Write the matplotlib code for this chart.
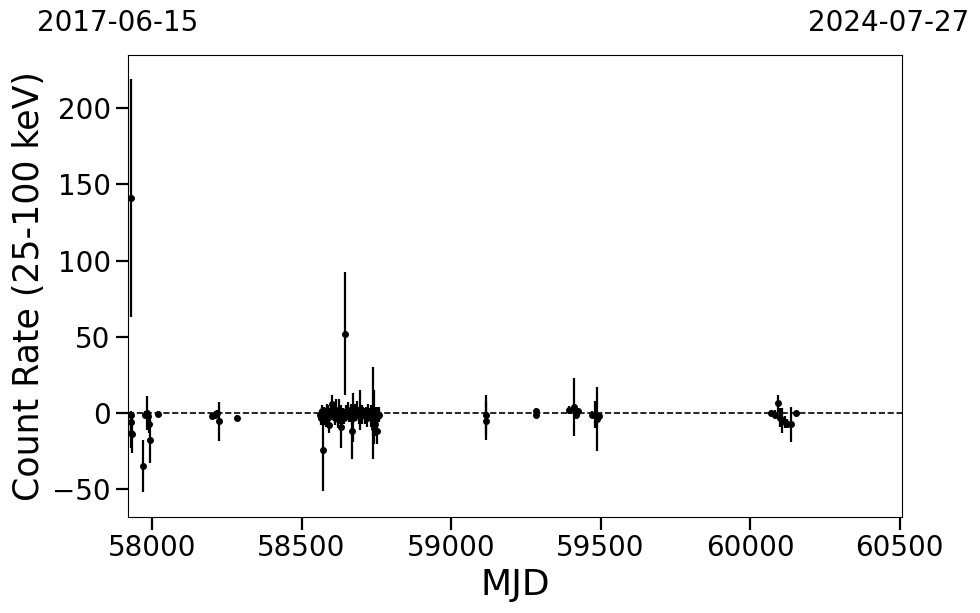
import matplotlib
matplotlib.use("Agg")
import matplotlib.pyplot as plt
import numpy as np

# ---- data ----
mjd_c1 = [57929.8, 57930.5, 57931.0, 57931.5, 57930.0, 57970, 57977, 57983, 57988, 57990, 57993, 58020]
rate_c1 = [141, -1, -6, -14, -13, -35, -1, 0, -2, -7, -18, -0.5]
err_c1 = [78, 2, 5, 12, 10, 17, 2, 11, 3, 6, 15, 1.5]

mjd_c2 = [58200, 58210, 58218, 58224, 58284]
rate_c2 = [-2, -1, 0, -5.5, -3]
err_c2 = [2, 2, 2, 13, 2]

mjd_c3 = [58562, 58566, 58569, 58573, 58576, 58579, 58582, 58585, 58589, 58592,
          58596, 58599, 58603, 58607, 58611, 58615, 58619, 58623, 58627, 58631,
          58635, 58639, 58643, 58645, 58648, 58652, 58656, 58660, 58664, 58668,
          58670, 58672, 58675, 58679, 58683, 58687, 58691, 58695, 58699, 58703,
          58707, 58711, 58715, 58719, 58723, 58727, 58731, 58735, 58738, 58740,
          58742, 58744, 58746, 58748, 58750, 58752, 58754, 58757, 58760]
rate_c3 = [-1, -3, 1, -24, -2, 0, -4, 2, -1, -8,
           -2, 1, 6, 0, -3, 2, -1, -4, 1, -9,
           -2, 0, -3, 52, 1, -1, 2, -2, 0, -3,
           -12, -3, 0, 1, -1, 2, -2, 2, 0, -1,
           1, -2, 0, -3, 1, -1, -2, 0, 0, -5,
           -10, 2, -7, -3, -1, -12, 0, -2, -1]
err_c3 = [3, 5, 4, 27, 6, 3, 5, 4, 6, 5,
          3, 5, 6, 4, 5, 7, 4, 6, 8, 14,
          5, 3, 4, 40.5, 4, 3, 5, 4, 6, 5,
          18, 16, 3, 5, 4, 6, 5, 13, 4, 6,
          3, 5, 4, 6, 5, 4, 7, 5, 30, 10,
          10, 13, 8, 6, 5, 8, 4, 3, 5]

mjd_c4 = [59116, 59117, 59283, 59284]
rate_c4 = [-1.3, -5, 1.5, -1]
err_c4 = [13, 13, 1.5, 1.5]

mjd_c5 = [59395, 59411, 59418, 59425, 59473, 59480, 59487, 59495]
rate_c5 = [2, 4, -1, 1, -1, -1, -4, -2]
err_c5 = [2.5, 19, 2, 2, 2, 9, 21, 2]

mjd_c6 = [60070, 60085, 60094.6, 60100, 60108, 60116, 60124, 60137, 60152]
rate_c6 = [0, -1, 6.3, -3, -5, -6, -7, -7.5, 0]
err_c6 = [2, 3, 5.5, 6, 8, 4, 3, 11.5, 1.5]

mjd = mjd_c1 + mjd_c2 + mjd_c3 + mjd_c4 + mjd_c5 + mjd_c6
rate = rate_c1 + rate_c2 + rate_c3 + rate_c4 + rate_c5 + rate_c6
err = err_c1 + err_c2 + err_c3 + err_c4 + err_c5 + err_c6

xlim = (57919.7, 60508)
ylim = (-68.2, 234.8)
xticks = [58000, 58500, 59000, 59500, 60000, 60500]
yticks = [-50, 0, 50, 100, 150, 200]
date_left = "2017-06-15"
date_right = "2024-07-27"

fig = plt.figure(figsize=(9.8, 6.13), dpi=100)
ax = fig.add_axes([0.1306, 0.1566, 0.7898, 0.7537])

ax.errorbar(mjd, rate, yerr=err, fmt='o', color='black', ms=4, elinewidth=1.6,
            capsize=0, zorder=3)
ax.axhline(0, color='black', ls='--', lw=1.2, zorder=2)

ax.set_xlim(*xlim)
ax.set_ylim(*ylim)
ax.set_xticks(xticks)
ax.set_yticks(yticks)
ax.tick_params(axis='both', which='major', length=9, width=1.6, labelsize=20)
for s in ax.spines.values():
    s.set_linewidth(0.8)

ax.set_xlabel("MJD", fontsize=26)
ax.set_ylabel("Count Rate (25-100 keV)", fontsize=25)

fig.text(118/980, 1 - 23/613, date_left, fontsize=20, ha='center', va='center')
fig.text(889/980, 1 - 23/613, date_right, fontsize=20, ha='center', va='center')

fig.savefig("out.png", dpi=100)
